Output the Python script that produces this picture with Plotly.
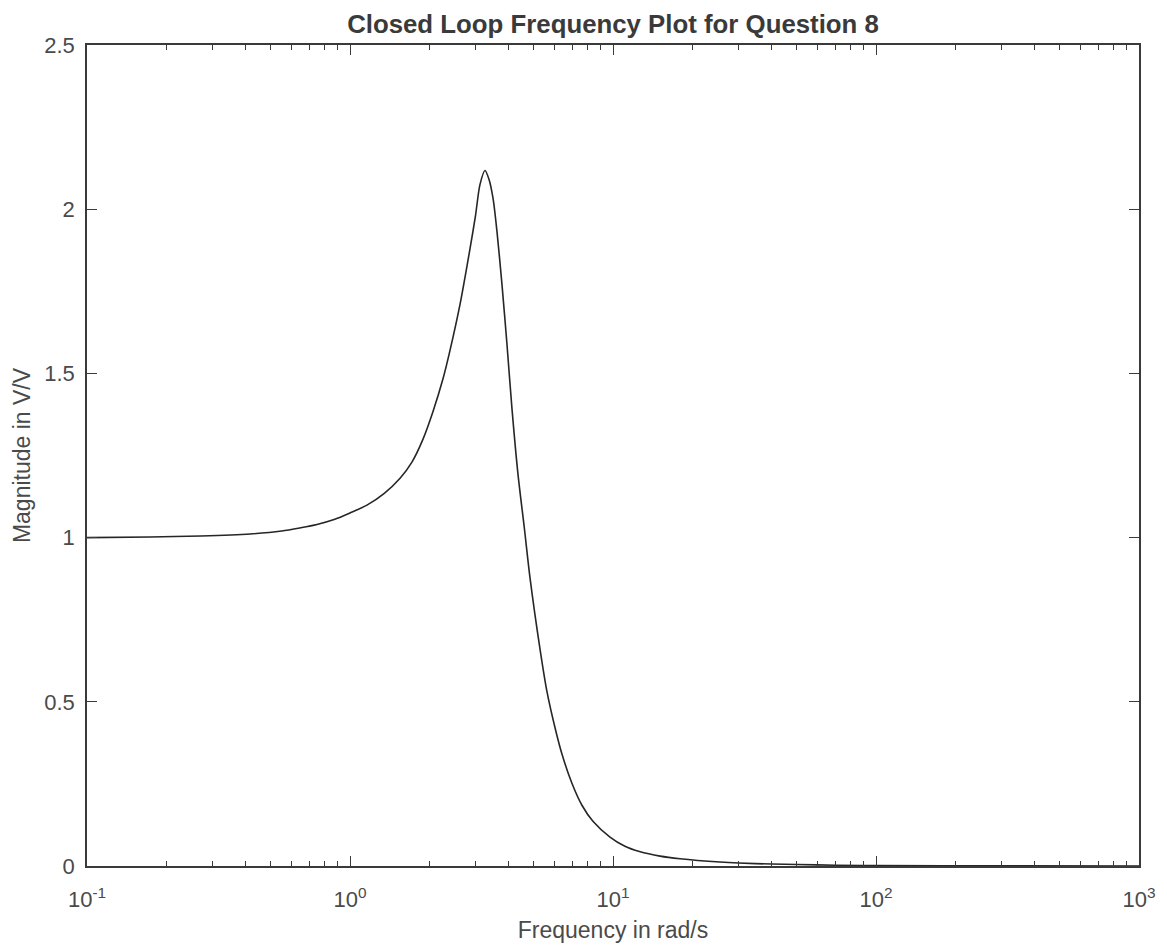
import plotly.graph_objects as go

# Data
freq = [0.1, 0.174, 0.271, 0.417, 0.55, 0.65, 0.749, 0.87, 1.0, 1.16, 1.35, 1.55, 1.72,
        1.895, 2.07, 2.26, 2.40, 2.62, 2.86, 3.0, 3.12, 3.26, 3.38, 3.50, 3.62,
        3.78, 3.95, 4.13, 4.35, 4.6, 4.84, 5.28, 5.61, 6.02, 6.40, 6.98, 7.62, 8.39, 9.74,
        11.1, 12.6, 15.1, 18.0, 25.5, 30.0, 40.0, 50.0, 70.0, 100.0, 300.0, 1000.0]
mag = [1.0, 1.002, 1.005, 1.011, 1.02, 1.03, 1.040, 1.055, 1.075, 1.099, 1.135, 1.181, 1.23,
       1.30, 1.385, 1.485, 1.57, 1.71, 1.88, 1.98, 2.075, 2.118, 2.09, 2.032, 1.933,
       1.774, 1.591, 1.392, 1.195, 1.03, 0.875, 0.660, 0.531, 0.421, 0.340, 0.252, 0.185, 0.136, 0.088,
       0.060, 0.044, 0.030, 0.022, 0.012, 0.009, 0.006, 0.0045, 0.0025, 0.0015, 0.0003, 0.0]

x_tick_vals = [0.1, 1, 10, 100, 1000]
x_tick_text = ["10<sup>-1</sup>", "10<sup>0</sup>", "10<sup>1</sup>", "10<sup>2</sup>", "10<sup>3</sup>"]
y_tick_vals = [0, 0.5, 1, 1.5, 2, 2.5]
y_tick_text = ["0", "0.5", "1", "1.5", "2", "2.5"]

minor_vals = [m * 10 ** e for e in range(-1, 3) for m in range(2, 10)]

axis_color = "#3a3a3a"
text_color = "#4a4a4a"
font_family = "Liberation Sans, Arial, Helvetica, sans-serif"

W, H = 1159, 939

fig = go.Figure()
fig.add_trace(go.Scatter(x=freq, y=mag, mode="lines", line_shape="spline",
                         line=dict(color="#262626", width=1.6, smoothing=0.8),
                         showlegend=False))

fig.update_layout(
    width=W, height=H,
    paper_bgcolor="white", plot_bgcolor="white",
    margin=dict(l=79, r=28, t=37, b=81, autoexpand=False),
    font=dict(family=font_family, color=text_color, size=22),
    title=dict(text="<b>Closed Loop Frequency Plot for Question 8</b>",
               x=(79 + (W - 79 - 28) / 2) / W, xanchor="center",
               y=1 - 16 / H, yanchor="middle",
               yref="container", font=dict(size=25.8, color="#3a3a3a")),
)

fig.update_xaxes(
    type="log", range=[-1, 3],
    tickmode="array", tickvals=x_tick_vals, ticktext=x_tick_text,
    ticks="inside", ticklen=10, tickwidth=1.2, tickcolor=axis_color,
    minor=dict(tickmode="array", tickvals=minor_vals, ticks="inside",
               ticklen=5, tickwidth=1, tickcolor=axis_color, showgrid=False),
    showline=True, linecolor=axis_color, linewidth=1.6, mirror="ticks",
    showgrid=False, zeroline=False,
    ticklabelstandoff=13,
    tickfont=dict(size=22, color=text_color),
    title=dict(text="Frequency in rad/s", font=dict(size=23, color=text_color), standoff=11),
)
fig.update_yaxes(
    range=[0, 2.5],
    tickmode="array", tickvals=y_tick_vals, ticktext=y_tick_text,
    ticks="inside", ticklen=10, tickwidth=1.2, tickcolor=axis_color,
    showline=True, linecolor=axis_color, linewidth=1.6, mirror="ticks",
    showgrid=False, zeroline=False,
    ticklabelstandoff=6,
    tickfont=dict(size=22, color=text_color),
    title=dict(text="Magnitude in V/V", font=dict(size=23, color=text_color), standoff=7),
)

fig.write_html("out.html")
